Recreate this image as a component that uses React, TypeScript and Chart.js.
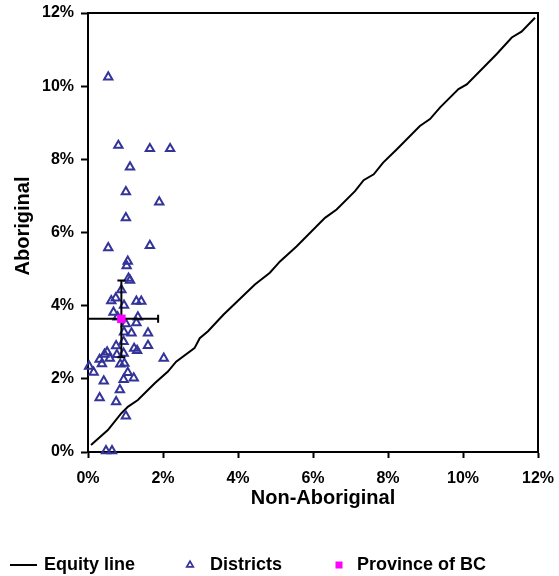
import { useEffect, useRef } from 'react';
import { Chart, registerables } from 'chart.js';

Chart.register(...registerables);

// ---- Data (percent values) ----
const districtX = [
  0.54, 0.81, 1.65, 2.19, 1.12, 1.01, 1.90, 1.01, 0.54, 1.65,
  1.06, 1.03, 1.08, 1.12, 0.89, 0.62, 0.74, 1.29, 1.42, 0.96,
  0.68, 0.79, 1.33, 1.29, 1.01, 0.96, 1.16, 1.60, 0.95, 0.75,
  1.60, 1.23, 1.31, 0.51, 0.44, 0.77, 0.95, 0.31, 0.58, 2.02,
  0.37, 0.03, 0.86, 0.97, 0.15, 1.06, 0.95, 1.22, 0.42, 0.85,
  0.31, 0.75, 1.01, 0.48, 0.64,
];
const districtY = [
  10.25, 8.38, 8.29, 8.29, 7.79, 7.11, 6.83, 6.40, 5.58, 5.64,
  5.21, 5.09, 4.75, 4.69, 4.43, 4.13, 4.21, 4.12, 4.12, 4.01,
  3.82, 3.69, 3.69, 3.53, 3.50, 3.28, 3.25, 3.25, 3.02, 2.90,
  2.91, 2.83, 2.77, 2.73, 2.67, 2.66, 2.70, 2.53, 2.56, 2.56,
  2.41, 2.34, 2.40, 2.42, 2.18, 2.17, 1.98, 2.02, 1.94, 1.70,
  1.48, 1.37, 0.98, 0.03, 0.03,
];

const equityX = [
  0.08, 0.53, 0.89, 1.07, 1.33, 1.78, 2.13, 2.35, 2.84, 2.98,
  3.20, 3.61, 4.45, 4.85, 5.12, 5.56, 6.32, 6.63, 7.12, 7.35,
  7.62, 7.87, 8.23, 8.85, 9.12, 9.39, 9.88, 10.10, 10.90, 11.30,
  11.56, 11.92,
];
const equityY = [
  0.19, 0.60, 1.06, 1.24, 1.42, 1.88, 2.20, 2.47, 2.84, 3.11,
  3.30, 3.75, 4.58, 4.90, 5.21, 5.62, 6.40, 6.63, 7.13, 7.43,
  7.59, 7.91, 8.27, 8.91, 9.10, 9.42, 9.92, 10.05, 10.88, 11.33,
  11.49, 11.87,
];

const provinceX = [0.89];
const provinceY = [3.64];
const provinceXErr = [0.98];
const provinceYErr = [1.05];

const axisTicks = [0, 2, 4, 6, 8, 10, 12];
const xTitle = 'Non-Aboriginal';
const yTitle = 'Aboriginal';
const legendLabels = ['Equity line', 'Districts', 'Province of BC'];

const BLUE = '#333399';
const MAGENTA = '#FF00FF';
const FONT = "'Liberation Sans', Arial, sans-serif";

const extrasPlugin = {
  id: 'extras',
  beforeDatasetDraw(chart: any, args: any) {
    if (args.index !== 0) return;
    const { ctx, chartArea, scales } = chart;
    const xs = scales.x;
    const ys = scales.y;
    ctx.save();
    ctx.beginPath();
    ctx.rect(chartArea.left, chartArea.top, chartArea.right - chartArea.left, chartArea.bottom - chartArea.top);
    ctx.clip();
    ctx.strokeStyle = '#000';
    ctx.lineWidth = 2;
    const cap = 4;
    provinceX.forEach((px, i) => {
      const py = provinceY[i];
      const cx = xs.getPixelForValue(px);
      const cy = ys.getPixelForValue(py);
      const x1 = xs.getPixelForValue(px - provinceXErr[i]);
      const x2 = xs.getPixelForValue(px + provinceXErr[i]);
      const y1 = ys.getPixelForValue(py + provinceYErr[i]);
      const y2 = ys.getPixelForValue(py - provinceYErr[i]);
      ctx.beginPath();
      ctx.moveTo(x1, cy); ctx.lineTo(x2, cy);
      ctx.moveTo(x1, cy - cap); ctx.lineTo(x1, cy + cap);
      ctx.moveTo(x2, cy - cap); ctx.lineTo(x2, cy + cap);
      ctx.moveTo(cx, y1); ctx.lineTo(cx, y2);
      ctx.moveTo(cx - cap, y1); ctx.lineTo(cx + cap, y1);
      ctx.moveTo(cx - cap, y2); ctx.lineTo(cx + cap, y2);
      ctx.stroke();
    });
    ctx.restore();
  },
  afterDraw(chart: any) {
    const { ctx, chartArea } = chart;
    ctx.save();
    // top and right frame
    ctx.strokeStyle = '#000';
    ctx.lineWidth = 2;
    ctx.beginPath();
    ctx.moveTo(chartArea.left, chartArea.top);
    ctx.lineTo(chartArea.right, chartArea.top);
    ctx.lineTo(chartArea.right, chartArea.bottom);
    ctx.stroke();

    // axis titles
    ctx.fillStyle = '#000';
    ctx.font = `bold 20px ${FONT}`;
    ctx.textAlign = 'center';
    ctx.textBaseline = 'middle';
    ctx.fillText(xTitle, 323, 498);
    ctx.save();
    ctx.translate(23, 226);
    ctx.rotate(-Math.PI / 2);
    ctx.fillText(yTitle, 0, 0);
    ctx.restore();

    // legend
    const ly = 565;
    ctx.font = `bold 18px ${FONT}`;
    ctx.fillStyle = '#000';
    ctx.textBaseline = 'middle';
    ctx.textAlign = 'left';
    ctx.beginPath();
    ctx.moveTo(10, ly);
    ctx.lineTo(37, ly);
    ctx.stroke();
    ctx.fillText(legendLabels[0], 44, ly);

    // triangle
    const tx = 190, r = 3.8;
    ctx.strokeStyle = BLUE;
    ctx.lineWidth = 1.7;
    ctx.beginPath();
    ctx.moveTo(tx, ly - r);
    ctx.lineTo(tx + r * 0.866, ly + r / 2);
    ctx.lineTo(tx - r * 0.866, ly + r / 2);
    ctx.closePath();
    ctx.stroke();
    ctx.fillText(legendLabels[1], 210, ly);

    ctx.fillStyle = MAGENTA;
    ctx.fillRect(339 - 3.5, ly - 3.5, 7, 7);
    ctx.fillStyle = '#000';
    ctx.fillText(legendLabels[2], 357, ly);
    ctx.restore();
  },
};

export default function App() {
  const canvasRef = useRef<HTMLCanvasElement | null>(null);

  useEffect(() => {
    document.body.style.margin = '0';
    const canvas = canvasRef.current;
    if (!canvas) return;

    const tickFont = { family: FONT, size: 16, weight: 'bold' as const };
    const pct = (v: any) => `${v}%`;
    const setTicks = (scale: any) => {
      scale.ticks = axisTicks.map((v) => ({ value: v }));
    };
    const zeroPad = (s: any) => {
      s.paddingLeft = 0;
      s.paddingRight = 0;
      s.paddingTop = 0;
      s.paddingBottom = 0;
    };

    const chart = new Chart(canvas, {
      type: 'scatter',
      data: {
        datasets: [
          {
            label: legendLabels[2],
            data: provinceX.map((x, i) => ({ x, y: provinceY[i] })),
            pointStyle: 'rect',
            pointRadius: 6,
            pointBackgroundColor: MAGENTA,
            pointBorderColor: MAGENTA,
            pointBorderWidth: 0,
            order: 0,
          },
          {
            label: legendLabels[1],
            data: districtX.map((x, i) => ({ x, y: districtY[i] })),
            pointStyle: 'triangle',
            pointRadius: 4.8,
            pointBackgroundColor: 'rgba(0,0,0,0)',
            pointBorderColor: BLUE,
            pointBorderWidth: 2,
            clip: false,
            order: 1,
          },
          {
            label: legendLabels[0],
            data: equityX.map((x, i) => ({ x, y: equityY[i] })),
            showLine: true,
            borderColor: '#000',
            borderWidth: 2,
            pointRadius: 0,
            tension: 0,
            order: 2,
          },
        ],
      },
      options: {
        responsive: false,
        animation: false,
        devicePixelRatio: 1,
        layout: { padding: { left: 0, top: 13, right: 21, bottom: 64 } },
        plugins: {
          legend: { display: false },
          tooltip: { enabled: false },
        },
        scales: {
          x: {
            type: 'linear',
            min: 0,
            max: 12,
            afterBuildTicks: setTicks,
            afterFit: (s: any) => { s.height = 60; zeroPad(s); },
            ticks: { callback: pct, font: tickFont, color: '#000', padding: 11, maxRotation: 0 },
            grid: { drawOnChartArea: false, drawTicks: true, tickLength: 6, tickWidth: 2, tickColor: '#000' },
            border: { display: true, color: '#000', width: 2 },
            title: { display: false },
          },
          y: {
            type: 'linear',
            min: 0,
            max: 12,
            afterBuildTicks: setTicks,
            afterFit: (s: any) => { s.width = 88; zeroPad(s); },
            ticks: { callback: pct, font: tickFont, color: '#000', padding: 7 },
            grid: { drawOnChartArea: false, drawTicks: true, tickLength: 7, tickWidth: 2, tickColor: '#000' },
            border: { display: true, color: '#000', width: 2 },
            title: { display: false },
          },
        },
      },
      plugins: [extrasPlugin],
    });

    return () => chart.destroy();
  }, []);

  return (
    <canvas
      ref={canvasRef}
      width={559}
      height={576}
      style={{ display: 'block', width: 559, height: 576 }}
    />
  );
}
